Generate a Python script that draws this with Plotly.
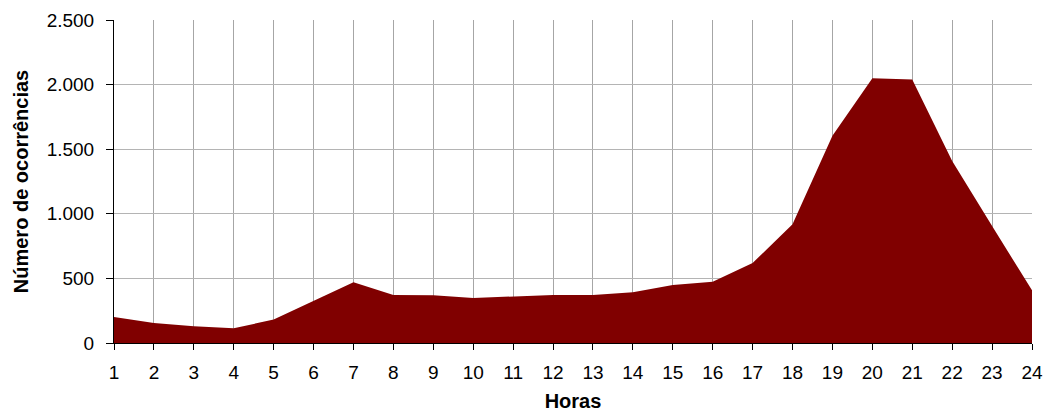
import plotly.graph_objects as go

# Ocorrências por hora do dia
horas = list(range(1, 25))
ocorrencias = [201, 155, 129, 114, 181, 323, 470, 372, 369, 348, 361, 372,
               372, 392, 449, 475, 619, 919, 1605, 2049, 2039, 1409, 905, 408]

y_ticks = [0, 500, 1000, 1500, 2000, 2500]

fig = go.Figure(
    go.Scatter(
        x=horas,
        y=ocorrencias,
        mode="lines",
        line=dict(color="#800000", width=0),
        fill="tozeroy",
        fillcolor="#800000",
        hoverinfo="x+y",
    )
)

font_family = "Liberation Sans, Arial, sans-serif"

fig.update_layout(
    width=1044,
    height=412,
    margin=dict(l=114, r=12, t=20, b=69),
    paper_bgcolor="white",
    plot_bgcolor="white",
    separators=",.",
    showlegend=False,
    font=dict(family=font_family, size=19, color="black"),
    xaxis=dict(
        range=[1, 24],
        tickmode="array",
        tickvals=horas,
        ticks="outside",
        ticklen=6,
        tickcolor="black",
        showline=True,
        linecolor="black",
        linewidth=1,
        showgrid=True,
        gridcolor="#a6a6a6",
        gridwidth=1,
        zeroline=False,
        automargin=False,
        tickfont=dict(size=19),
        ticklabelstandoff=6,
        title=dict(text="<b>Horas</b>", font=dict(size=20), standoff=14),
    ),
    yaxis=dict(
        range=[0, 2500],
        tickmode="array",
        tickvals=y_ticks,
        tickformat=",d",
        ticks="outside",
        ticklen=7,
        tickcolor="black",
        showline=True,
        linecolor="black",
        linewidth=1,
        showgrid=True,
        gridcolor="#b4b4b4",
        gridwidth=1,
        zeroline=False,
        automargin=False,
        tickfont=dict(size=19),
        ticklabelstandoff=8,
        title=dict(text="<b>Número de ocorrências</b>", font=dict(size=20), standoff=12),
    ),
)

fig.write_html("out.html")
